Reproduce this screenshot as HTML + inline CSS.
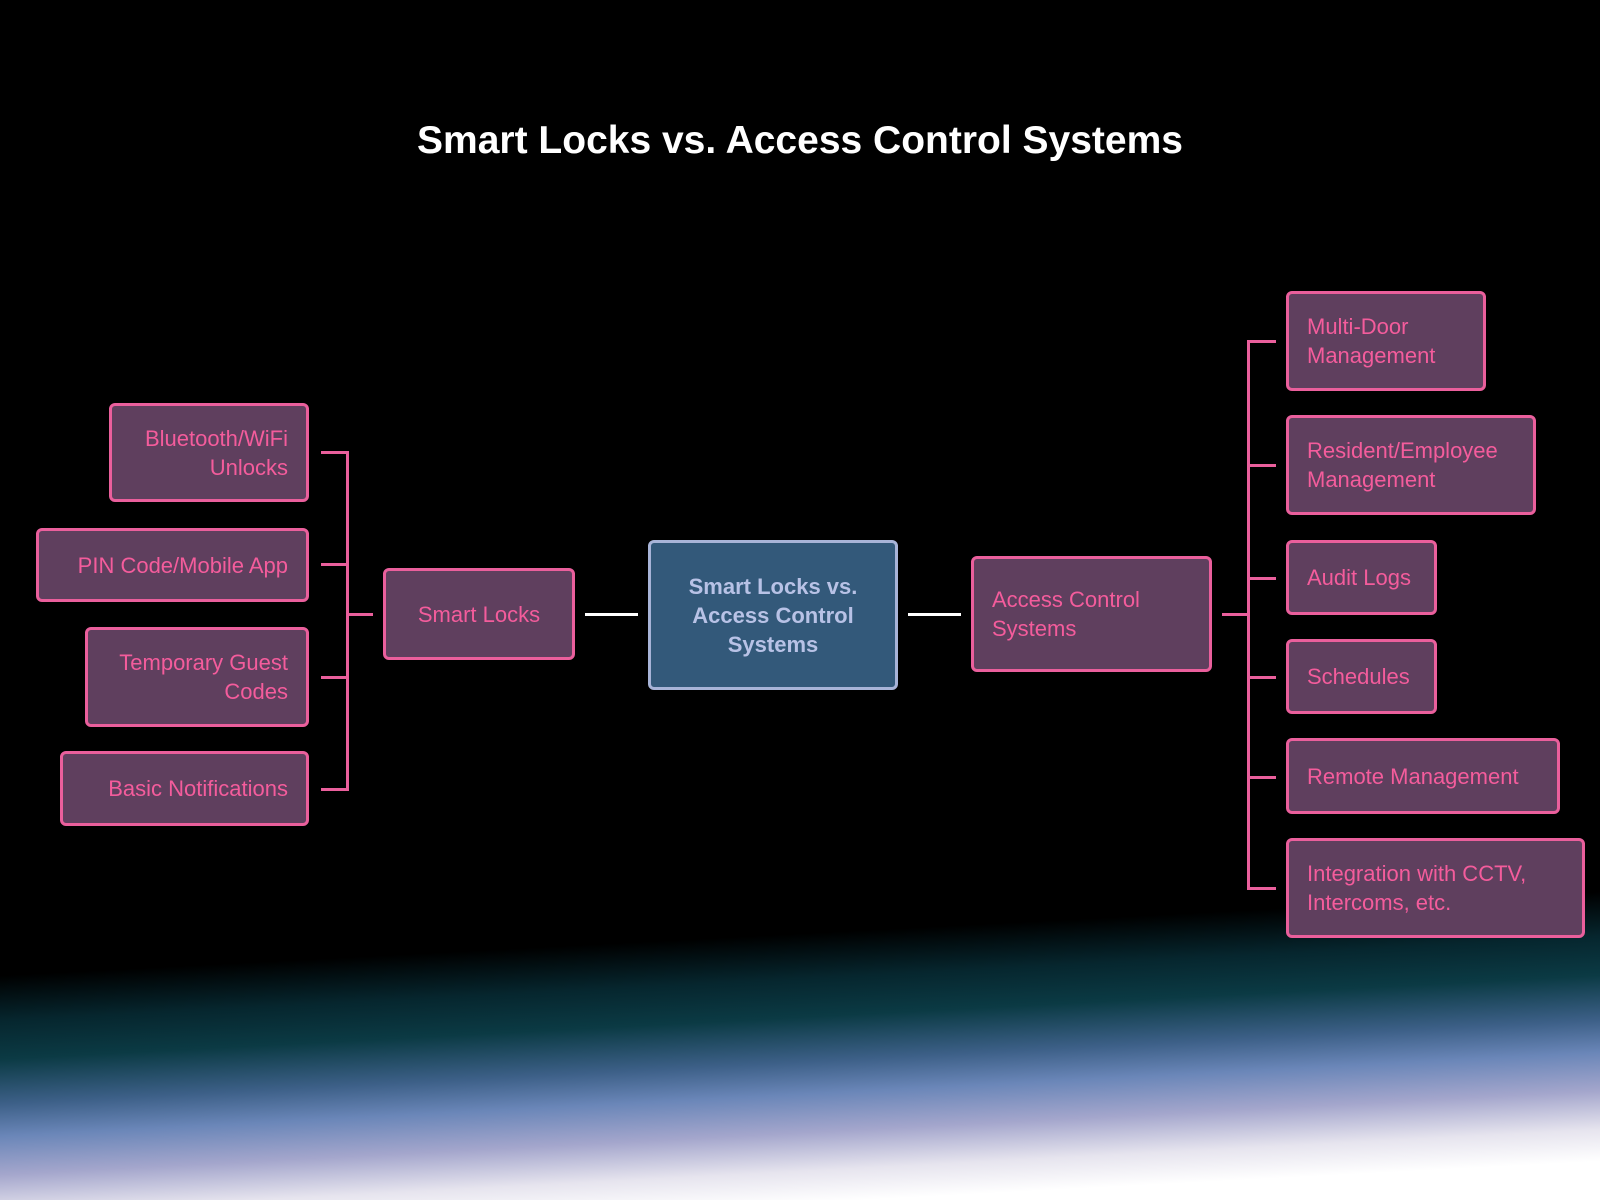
<!DOCTYPE html>
<html><head><meta charset="utf-8"><style>
html,body{margin:0;padding:0}
body{width:1600px;height:1200px;position:relative;overflow:hidden;font-family:"Liberation Sans",sans-serif;
background:linear-gradient(177deg,#000 0%,#000 76%,#06262e 79.5%,#0b3a44 82.5%,#3d6088 86%,#6a86b8 88.5%,#a4a6cc 91.5%,#e6e4ee 94.5%,#fff 97%,#fff 100%);}
.t{position:absolute;left:0;width:1600px;top:119px;text-align:center;color:#fff;font-weight:bold;font-size:39px}
.n{position:absolute;box-sizing:border-box;background:#5f3f5e;border:3px solid #ea5f9c;border-radius:6px;color:#f45c9c;font-size:22px;line-height:29px;display:flex;align-items:center;padding:0 18px}
.l{justify-content:flex-end;text-align:right}
.r{justify-content:flex-start;text-align:left}
.c{position:absolute;box-sizing:border-box;background:#33597a;border:3px solid #a8b4d8;border-radius:6px;color:#b8c2e6;font-weight:bold;font-size:22px;line-height:29px;display:flex;align-items:center;justify-content:center;text-align:center}
.h{position:absolute;height:3px}
.v{position:absolute;width:3px}
.p{background:#ea5f9c}.w{background:#fff}
</style></head><body>
<div class="t">Smart Locks vs. Access Control Systems</div>

<div class="n l" style="left:109px;top:403px;width:200px;height:99px">Bluetooth/WiFi<br>Unlocks</div>
<div class="n l" style="left:36px;top:528px;width:273px;height:74px">PIN Code/Mobile App</div>
<div class="n l" style="left:85px;top:627px;width:224px;height:100px">Temporary Guest<br>Codes</div>
<div class="n l" style="left:60px;top:751px;width:249px;height:75px">Basic Notifications</div>

<div class="h p" style="left:321px;top:451px;width:27px"></div>
<div class="h p" style="left:321px;top:563px;width:27px"></div>
<div class="h p" style="left:321px;top:676px;width:27px"></div>
<div class="h p" style="left:321px;top:788px;width:27px"></div>
<div class="v p" style="left:346px;top:451px;height:340px"></div>
<div class="h p" style="left:346px;top:613px;width:27px"></div>

<div class="n" style="left:383px;top:568px;width:192px;height:92px;justify-content:center">Smart Locks</div>
<div class="h w" style="left:585px;top:613px;width:53px"></div>
<div class="c" style="left:648px;top:540px;width:250px;height:150px">Smart Locks vs.<br>Access Control<br>Systems</div>
<div class="h w" style="left:908px;top:613px;width:53px"></div>
<div class="n r" style="left:971px;top:556px;width:241px;height:116px">Access Control<br>Systems</div>

<div class="h p" style="left:1222px;top:613px;width:27px"></div>
<div class="v p" style="left:1247px;top:340px;height:550px"></div>
<div class="h p" style="left:1247px;top:340px;width:29px"></div>
<div class="h p" style="left:1247px;top:464px;width:29px"></div>
<div class="h p" style="left:1247px;top:577px;width:29px"></div>
<div class="h p" style="left:1247px;top:676px;width:29px"></div>
<div class="h p" style="left:1247px;top:776px;width:29px"></div>
<div class="h p" style="left:1247px;top:887px;width:29px"></div>

<div class="n r" style="left:1286px;top:291px;width:200px;height:100px">Multi-Door<br>Management</div>
<div class="n r" style="left:1286px;top:415px;width:250px;height:100px">Resident/Employee<br>Management</div>
<div class="n r" style="left:1286px;top:540px;width:151px;height:75px">Audit Logs</div>
<div class="n r" style="left:1286px;top:639px;width:151px;height:75px">Schedules</div>
<div class="n r" style="left:1286px;top:738px;width:274px;height:76px">Remote Management</div>
<div class="n r" style="left:1286px;top:838px;width:299px;height:100px">Integration with CCTV,<br>Intercoms, etc.</div>
</body></html>
